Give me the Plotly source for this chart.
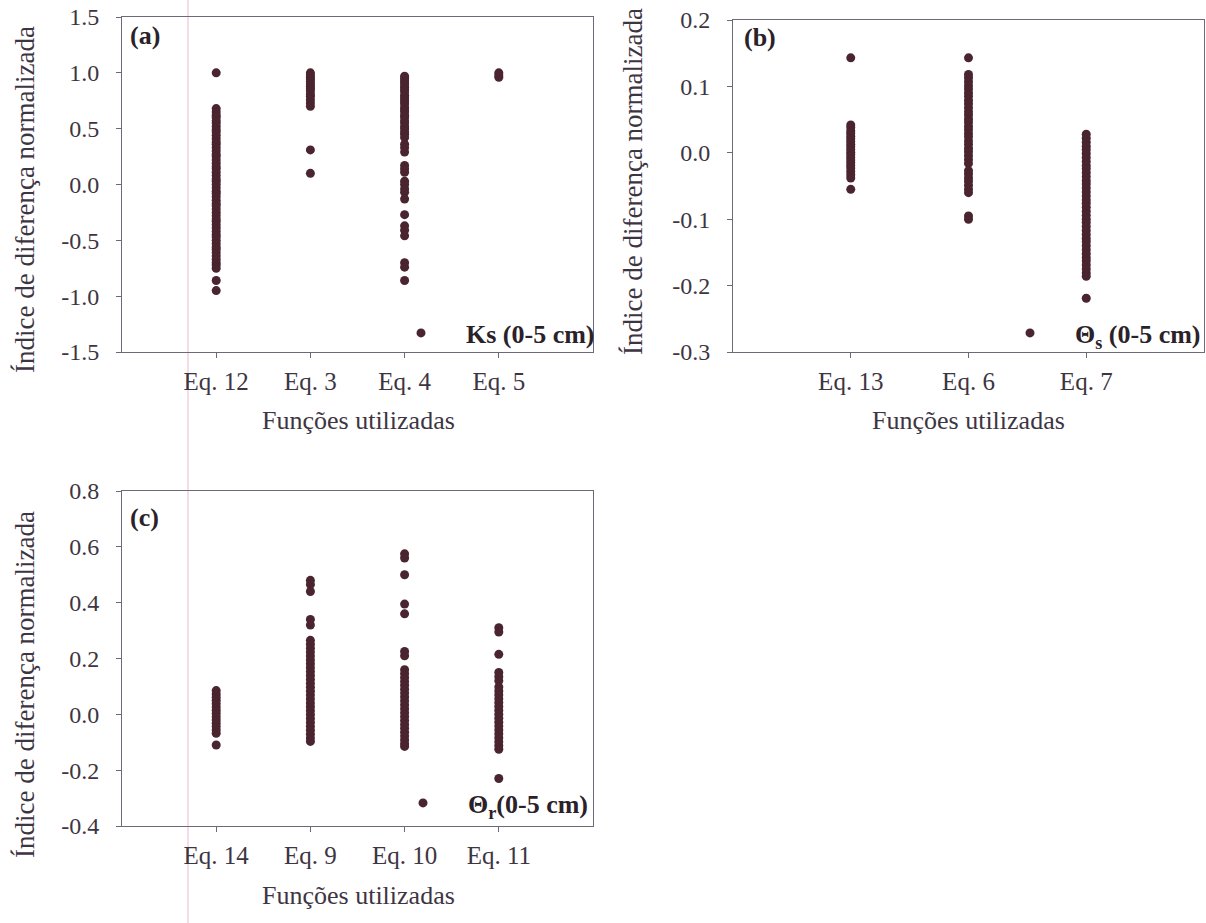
import plotly.graph_objects as go

# ---------------- data ----------------
cats_a = ["Eq. 12", "Eq. 3", "Eq. 4", "Eq. 5"]
a_eq12 = [1.00, 0.68, 0.65, 0.62, 0.60, 0.57, 0.55, 0.52, 0.49, 0.47, 0.44, 0.41, 0.38, 0.36,
          0.33, 0.30, 0.27, 0.25, 0.22, 0.19, 0.16, 0.14, 0.11, 0.08, 0.05, 0.03, 0.00, -0.03,
          -0.06, -0.08, -0.11, -0.14, -0.17, -0.19, -0.22, -0.25, -0.28, -0.31, -0.33, -0.36,
          -0.39, -0.42, -0.45, -0.47, -0.50, -0.53, -0.56, -0.58, -0.61, -0.64, -0.67, -0.70,
          -0.72, -0.75, -0.86, -0.95]
a_eq3 = [1.00, 0.98, 0.96, 0.94, 0.92, 0.90, 0.88, 0.86, 0.84, 0.81, 0.79, 0.76, 0.73, 0.70,
         0.31, 0.10]
a_eq4 = [0.97, 0.95, 0.93, 0.91, 0.89, 0.87, 0.85, 0.83, 0.80, 0.78, 0.76, 0.74, 0.72, 0.69,
         0.67, 0.65, 0.62, 0.60, 0.57, 0.55, 0.52, 0.50, 0.47, 0.45, 0.42, 0.36, 0.33, 0.29,
         0.17, 0.14, 0.11, 0.03, 0.00, -0.04, -0.07, -0.13, -0.27, -0.37, -0.41, -0.46, -0.70,
         -0.74, -0.86]
a_eq5 = [1.00, 0.98, 0.96]

cats_b = ["Eq. 13", "Eq. 6", "Eq. 7"]
b_eq13 = [0.143, 0.042, 0.038, 0.033, 0.029, 0.025, 0.021, 0.017, 0.013, 0.009, 0.005, 0.001,
          -0.003, -0.007, -0.011, -0.015, -0.019, -0.023, -0.028, -0.033, -0.038, -0.055]
b_eq6 = [0.143, 0.118, 0.113, 0.107, 0.101, 0.096, 0.090, 0.085, 0.079, 0.074, 0.068, 0.062,
         0.057, 0.051, 0.046, 0.040, 0.035, 0.029, 0.024, 0.018, 0.013, 0.007, 0.002, -0.004,
         -0.010, -0.016, -0.027, -0.032, -0.038, -0.043, -0.049, -0.055, -0.060, -0.095, -0.100]
b_eq7 = [0.028, 0.022, 0.016, 0.010, 0.005, -0.001, -0.007, -0.013, -0.019, -0.024, -0.030,
         -0.036, -0.042, -0.047, -0.053, -0.059, -0.065, -0.071, -0.076, -0.082, -0.088, -0.094,
         -0.100, -0.105, -0.111, -0.117, -0.123, -0.129, -0.134, -0.140, -0.146, -0.152, -0.158,
         -0.163, -0.169, -0.175, -0.181, -0.186, -0.219]

cats_c = ["Eq. 14", "Eq. 9", "Eq. 10", "Eq. 11"]
c_eq14 = [0.085, 0.073, 0.061, 0.050, 0.038, 0.026, 0.015, 0.003, -0.009, -0.020, -0.032,
          -0.044, -0.056, -0.068, -0.110]
c_eq9 = [0.480, 0.465, 0.440, 0.340, 0.320, 0.265, 0.251, 0.237, 0.223, 0.209, 0.195, 0.181,
         0.167, 0.153, 0.139, 0.125, 0.111, 0.097, 0.083, 0.069, 0.055, 0.041, 0.027, 0.013,
         -0.001, -0.015, -0.029, -0.043, -0.057, -0.071, -0.085, -0.097]
c_eq10 = [0.575, 0.560, 0.500, 0.395, 0.360, 0.225, 0.210, 0.160, 0.146, 0.132, 0.118, 0.104,
          0.090, 0.076, 0.062, 0.048, 0.034, 0.020, 0.006, -0.008, -0.022, -0.036, -0.050,
          -0.064, -0.078, -0.092, -0.105, -0.115]
c_eq11 = [0.310, 0.295, 0.215, 0.150, 0.135, 0.120, 0.098, 0.084, 0.070, 0.056, 0.042, 0.028,
          0.014, 0.000, -0.014, -0.028, -0.042, -0.056, -0.070, -0.084, -0.098, -0.112, -0.125,
          -0.230]

yticks_a = [-1.5, -1.0, -0.5, 0.0, 0.5, 1.0, 1.5]
yticks_b = [-0.3, -0.2, -0.1, 0.0, 0.1, 0.2]
yticks_c = [-0.4, -0.2, 0.0, 0.2, 0.4, 0.6, 0.8]

# ---------------- style ----------------
W, H = 1206, 923
FONT = "Liberation Serif"
TXT = "#3e3542"
DARK = "#2a2228"
AX = "#6f6878"
MK = "#4a2530"

def px_x(x):
    return x / W

def px_y(y):
    return 1 - y / H

fig = go.Figure()

def add_panel(series, xa, ya, legend, name):
    for i, vals in enumerate(series):
        fig.add_trace(go.Scatter(
            x=[i + 1] * len(vals), y=vals, mode="markers",
            marker=dict(color=MK, size=9, line=dict(width=0)),
            xaxis=xa, yaxis=ya, legend=legend, name=name,
            showlegend=(i == 0), legendgroup=legend, hoverinfo="y"))

add_panel([a_eq12, a_eq3, a_eq4, a_eq5], "x", "y", "legend", "<b>Ks (0-5 cm)</b>")
add_panel([b_eq13, b_eq6, b_eq7], "x2", "y2", "legend2", "<b>Θ<sub>s</sub> (0-5 cm)</b>")
add_panel([c_eq14, c_eq9, c_eq10, c_eq11], "x3", "y3", "legend3", "<b>Θ<sub>r</sub>(0-5 cm)</b>")

def xaxis(cats, dom, anchor):
    n = len(cats)
    return dict(domain=dom, anchor=anchor, range=[0, n + 1],
                tickmode="array", tickvals=list(range(1, n + 1)), ticktext=cats,
                ticks="outside", ticklen=5, tickcolor=AX, tickwidth=1,
                showline=True, linecolor=AX, linewidth=1, mirror=True,
                showgrid=False, zeroline=False, automargin=False,
                tickfont=dict(family=FONT, size=25, color=TXT), ticklabelstandoff=2)

def yaxis(ticks, dom, anchor):
    return dict(domain=dom, anchor=anchor, range=[ticks[0], ticks[-1]],
                tickmode="array", tickvals=ticks, ticktext=["%.1f" % t for t in ticks],
                ticks="outside", ticklen=5, tickcolor=AX, tickwidth=1,
                showline=True, linecolor=AX, linewidth=1, mirror=True,
                showgrid=False, zeroline=False, automargin=False,
                tickfont=dict(family=FONT, size=24, color=TXT), ticklabelstandoff=12)

xa_dom = [px_x(122), px_x(593)]
xb_dom = [px_x(733), px_x(1204)]
ya_dom = [px_y(352), px_y(17)]
yb_dom = [px_y(352), px_y(20)]
yc_dom = [px_y(826), px_y(491)]

legend_common = dict(bgcolor="rgba(0,0,0,0)", borderwidth=0,
                     font=dict(family=FONT, size=26, color=DARK),
                     xanchor="right", yanchor="middle", itemwidth=80,
                     tracegroupgap=0)

fig.update_layout(
    width=W, height=H, margin=dict(l=0, r=0, t=0, b=0, pad=0, autoexpand=False),
    paper_bgcolor="white", plot_bgcolor="white",
    xaxis=xaxis(cats_a, xa_dom, "y"),
    yaxis=yaxis(yticks_a, ya_dom, "x"),
    xaxis2=xaxis(cats_b, xb_dom, "y2"),
    yaxis2=yaxis(yticks_b, yb_dom, "x2"),
    xaxis3=xaxis(cats_c, xa_dom, "y3"),
    yaxis3=yaxis(yticks_c, yc_dom, "x3"),
    legend=dict(legend_common, x=px_x(600), y=px_y(333)),
    legend2=dict(legend_common, x=1.0, y=px_y(333)),
    legend3=dict(legend_common, x=px_x(593), y=px_y(803)),
    showlegend=True,
)

ann = []
for txt, x, y in [("(a)", 128, 35), ("(b)", 742, 37), ("(c)", 128, 517)]:
    ann.append(dict(text="<b>%s</b>" % txt, x=px_x(x), y=px_y(y), xref="paper", yref="paper",
                    xanchor="left", yanchor="middle", showarrow=False,
                    font=dict(family=FONT, size=26, color=DARK)))
for x, y in [(25, 200), (633, 182), (25, 685)]:
    ann.append(dict(text="Índice de diferença normalizada", x=px_x(x), y=px_y(y),
                    xref="paper", yref="paper", textangle=-90, showarrow=False,
                    xanchor="center", yanchor="middle",
                    font=dict(family=FONT, size=27, color=TXT)))
for x, y in [(358, 420), (968, 420), (358, 895)]:
    ann.append(dict(text="Funções utilizadas", x=px_x(x), y=px_y(y),
                    xref="paper", yref="paper", showarrow=False,
                    xanchor="center", yanchor="middle",
                    font=dict(family=FONT, size=26, color=TXT)))
fig.update_layout(annotations=ann)

fig.add_shape(type="line", xref="paper", yref="paper", x0=px_x(188), x1=px_x(188), y0=0, y1=1,
              line=dict(color="#f6dce8", width=2), layer="below")

fig.write_html("out.html", config={"displayModeBar": False},
               post_script="document.body.style.margin='0px';document.body.style.overflow='hidden';")
